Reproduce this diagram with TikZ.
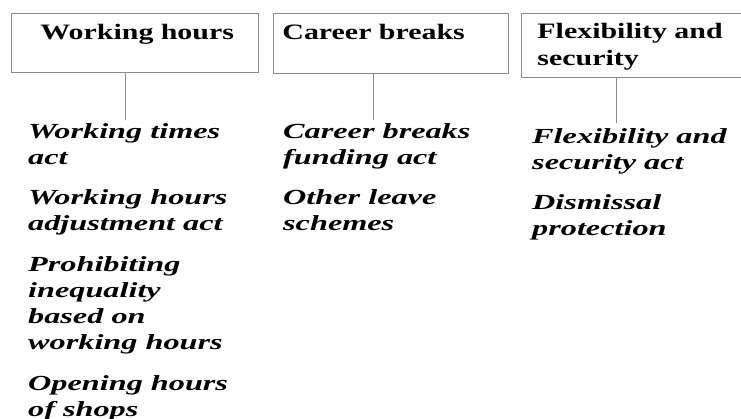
\documentclass[tikz,border=0pt]{standalone}
\usepackage{fontspec}
\setmainfont{Liberation Serif}
\newfontfamily\hdfont[FakeStretch=1.36]{Liberation Serif}
\newfontfamily\itfont[FakeStretch=1.5]{Liberation Serif}
\definecolor{linegray}{gray}{0.55}
\tikzset{
  hbox/.style={draw=linegray, line width=0.8pt, anchor=north west, inner sep=0pt, align=left,
    font=\hdfont\bfseries\fontsize{22}{27}\selectfont},
  item/.style={anchor=base west, inner sep=0pt, align=left,
    font=\itfont\bfseries\itshape\fontsize{21.5}{26}\selectfont},
  conn/.style={draw=linegray, line width=0.8pt}
}
\begin{document}
\begin{tikzpicture}[x=1pt,y=-1pt]
\useasboundingbox (0,0) rectangle (741,418);
\clip (0,0) rectangle (741,418);
% header boxes
\node[hbox, text width=247pt, text height=26pt, text depth=33pt] (wh) at (11,13) {\hspace*{29pt}Working hours};
\node[hbox, text width=235pt, text height=26pt, text depth=34pt] (cb) at (273,13) {\hspace*{9pt}Career breaks};
\node[hbox, text width=240pt, text height=25pt, text depth=39pt] (fs) at (521,13) {\hspace*{16pt}Flexibility and\\\hspace*{16pt}security};
% column 1 (anchor = baseline of last line)
\node[item] (a1) at (28,164) {Working times\\act};
\node[item] (a2) at (28,230) {Working hours\\adjustment act};
\node[item] (a3) at (28,349) {Prohibiting\\inequality\\based on\\working hours};
\node[item] (a4) at (28,416) {Opening hours\\of shops};
% column 2
\node[item] (b1) at (283,164) {Career breaks\\funding act};
\node[item] (b2) at (283,230) {Other leave\\schemes};
% column 3
\node[item] (c1) at (532,169) {Flexibility and\\security act};
\node[item] (c2) at (532,235) {Dismissal\\protection};
% connectors
\coordinate (e1) at (125,120);
\coordinate (e2) at (373,120);
\coordinate (e3) at (616,123);
\draw[conn] (e1 |- wh.south) -- (e1);
\draw[conn] (e2 |- cb.south) -- (e2);
\draw[conn] (e3 |- fs.south) -- (e3);
\end{tikzpicture}
\end{document}
